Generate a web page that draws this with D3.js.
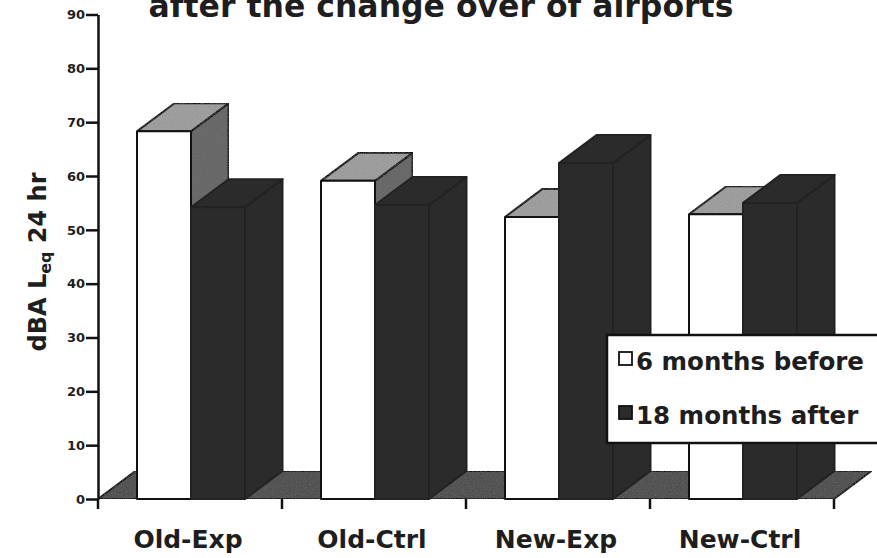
<!DOCTYPE html>
<html>
<head>
<meta charset="utf-8">
<script src="https://cdn.jsdelivr.net/npm/d3@7/dist/d3.min.js"></script>
<style>
  html, body { margin: 0; padding: 0; background: #fff; }
  svg { display: block; }
  text { font-family: "DejaVu Sans", "Liberation Sans", Arial, sans-serif; font-weight: bold; fill: #1e1e1e; }
</style>
</head>
<body>
<svg id="chart" width="877" height="558"></svg>
<script>
// Airport noise exposure, dBA Leq 24 hr, per site group
const categories = ["Old-Exp", "Old-Ctrl", "New-Exp", "New-Ctrl"];
const seriesNames = ["6 months before", "18 months after"];
const before = [68.3, 59.1, 52.4, 52.9];
const after = [54.2, 54.6, 62.4, 55.0];
const yTicks = [0, 10, 20, 30, 40, 50, 60, 70, 80, 90];
const titleText = "after the change over of airports";

const svg = d3.select("#chart");

// plot frame
const left = 98, right = 834, bottom = 499;
const depthX = 37.5, depthY = -28;

const x = d3.scaleBand().domain(categories).range([left, right]).padding(0);
const xs = d3.scaleBand().domain(seriesNames).range([39, 147]).padding(0);
const y = d3.scaleLinear().domain([0, 90]).range([bottom, 14.5]);

const seriesValues = [before, after];
const faceColors = [
  { front: "#ffffff", top: "#a2a2a2", side: "#666666", edge: "#111", grain: true },
  { front: "#2b2b2b", top: "#2b2b2b", side: "#2b2b2b", edge: "#222", grain: false }
];

// light speckle for the grey faces
const defs = svg.append("defs");
const grain = defs.append("filter").attr("id", "grain")
  .attr("x", 0).attr("y", 0).attr("width", 1).attr("height", 1);
grain.append("feTurbulence").attr("type", "fractalNoise")
  .attr("baseFrequency", 0.9).attr("numOctaves", 1).attr("seed", 3).attr("result", "noise");
grain.append("feColorMatrix").attr("in", "noise").attr("type", "matrix")
  .attr("values", "0 0 0 0 0.2  0 0 0 0 0.2  0 0 0 0 0.2  0.5 0.5 0.5 0 -0.62")
  .attr("result", "speck");
grain.append("feComposite").attr("in", "speck").attr("in2", "SourceAlpha")
  .attr("operator", "in").attr("result", "speckIn");
grain.append("feMerge").call(m => {
  m.append("feMergeNode").attr("in", "SourceGraphic");
  m.append("feMergeNode").attr("in", "speckIn");
});

const line = d3.line();
const stroke = "#111";

// floor
svg.append("path")
  .attr("d", line([[left, bottom], [right, bottom], [right + depthX, bottom + depthY], [left + depthX, bottom + depthY]]) + "Z")
  .attr("fill", "#4e4e4e").attr("stroke", stroke).attr("stroke-width", 2)
  .attr("stroke-linejoin", "round").attr("filter", "url(#grain)");

// bars, drawn left to right so each front face hides the neighbour's side face
const bars = svg.append("g");
categories.forEach((cat, i) => {
  seriesNames.forEach((s, j) => {
    const v = seriesValues[j][i];
    const x0 = x(cat) + xs(s), x1 = x0 + xs.bandwidth();
    const yt = y(v), yb = y(0);
    const c = faceColors[j];
    const f = c.grain ? "url(#grain)" : null;
    const g = bars.append("g")
      .attr("stroke", c.edge).attr("stroke-width", 2).attr("stroke-linejoin", "round");
    g.append("path")
      .attr("d", line([[x1, yt], [x1 + depthX, yt + depthY], [x1 + depthX, yb + depthY], [x1, yb]]) + "Z")
      .attr("fill", c.side).attr("filter", f);
    g.append("path")
      .attr("d", line([[x0, yt], [x1, yt], [x1 + depthX, yt + depthY], [x0 + depthX, yt + depthY]]) + "Z")
      .attr("fill", c.top).attr("filter", f);
    g.append("rect")
      .attr("x", x0).attr("y", yt).attr("width", x1 - x0).attr("height", yb - yt)
      .attr("fill", c.front);
  });
});

// y axis
const yAxis = svg.append("g").attr("transform", `translate(${left},0)`)
  .call(d3.axisLeft(y).tickValues(yTicks).tickSize(12).tickSizeOuter(0).tickPadding(1));
yAxis.select(".domain").attr("stroke", stroke).attr("stroke-width", 2.5);
yAxis.selectAll(".tick line").attr("stroke", stroke).attr("stroke-width", 2.5);
yAxis.selectAll(".tick text")
  .attr("font-family", "DejaVu Sans").attr("font-weight", "bold")
  .attr("font-size", 13).attr("fill", "#1e1e1e");

// x axis ticks along the front edge of the floor
const xEdges = [left].concat(categories.map(c => x(c) + x.bandwidth()));
svg.append("g").selectAll("line").data(xEdges).join("line")
  .attr("x1", d => d).attr("x2", d => d)
  .attr("y1", bottom).attr("y2", bottom + 10)
  .attr("stroke", stroke).attr("stroke-width", 2.5);

// category labels
svg.append("g").selectAll("text").data(categories).join("text")
  .attr("x", d => x(d) + x.bandwidth() / 2 - 2)
  .attr("y", 548)
  .attr("text-anchor", "middle")
  .attr("font-size", 25)
  .text(d => d);

// y axis title
const yTitle = svg.append("text")
  .attr("transform", "translate(46,262) rotate(-90)")
  .attr("text-anchor", "middle")
  .attr("font-size", 24);
yTitle.append("tspan").text("dBA L");
yTitle.append("tspan").attr("font-size", 16).attr("dy", 5).text("eq");
yTitle.append("tspan").attr("dy", -5).text(" 24 hr");

// title line along the top edge
svg.append("text")
  .attr("x", 441).attr("y", 17)
  .attr("text-anchor", "middle")
  .attr("font-size", 31.5)
  .text(titleText);

// legend
const legend = svg.append("g");
legend.append("rect")
  .attr("x", 607).attr("y", 335).attr("width", 300).attr("height", 108)
  .attr("fill", "#fff").attr("stroke", stroke).attr("stroke-width", 2.5);
seriesNames.forEach((s, j) => {
  const yy = 352 + j * 54;
  legend.append("rect")
    .attr("x", 619).attr("y", yy).attr("width", 13).attr("height", 13)
    .attr("fill", faceColors[j].front).attr("stroke", stroke).attr("stroke-width", 1.8);
  legend.append("text")
    .attr("x", 636).attr("y", yy + 18)
    .attr("font-size", 24.5)
    .text(s);
});
</script>
</body>
</html>
